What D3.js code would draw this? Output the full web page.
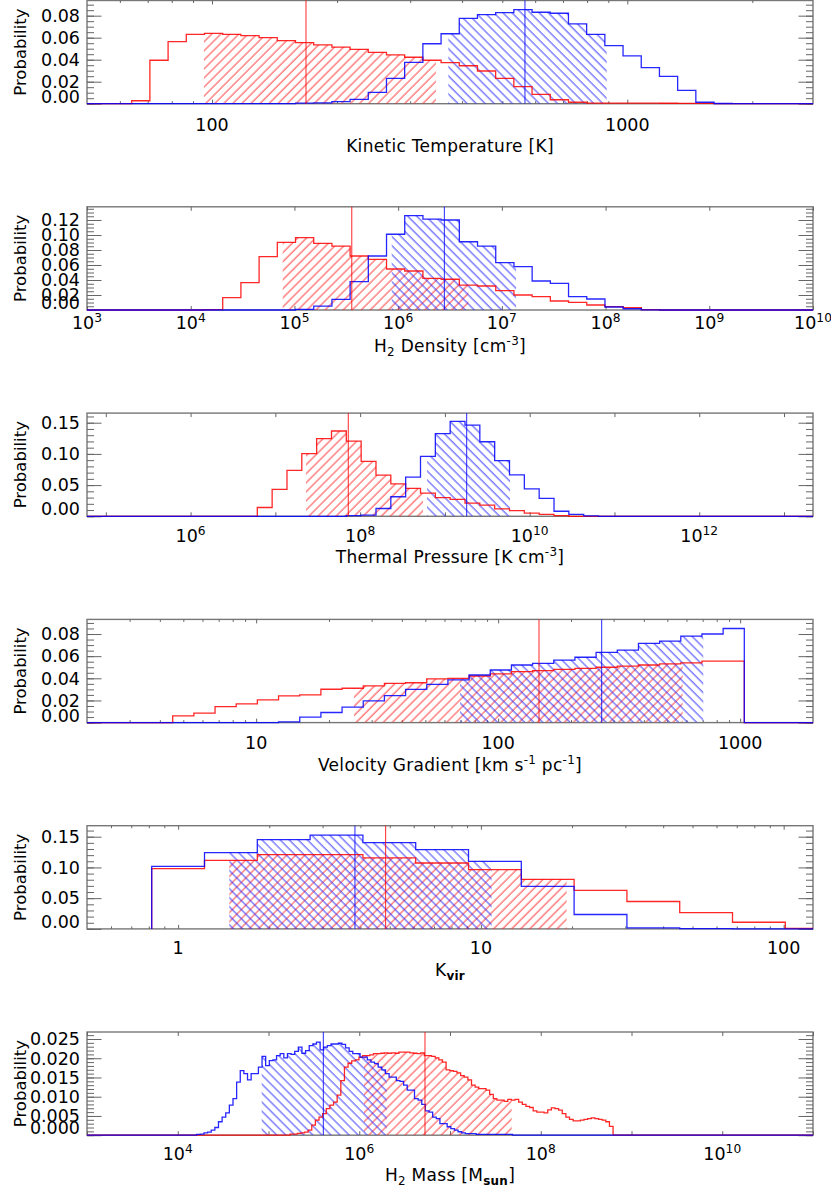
<!DOCTYPE html>
<html>
<head>
<meta charset="utf-8">
<script src="https://cdn.jsdelivr.net/npm/d3@7/dist/d3.min.js"></script>
<style>
  html, body { margin: 0; padding: 0; background: #fff; }
  svg { display: block; }
  text { font-family: "DejaVu Sans", sans-serif; fill: #000; }
</style>
</head>
<body>
<svg id="chart" width="831" height="1189"></svg>
<script>
// ── Data (histograms: log10 of first bin edge, log10 bin width, probabilities) ──

// Kinetic temperature [K]
const tkDomain = [50, 2800];
const tkBinWidth = 0.04382;
const tkStart = [1.8066, 2.2010];           // red, blue
const tkRed = [0.0027, 0.0395, 0.0564, 0.0631, 0.0640, 0.0631, 0.0618, 0.0600, 0.0573, 0.0555,
  0.0534, 0.0515, 0.0494, 0.0467, 0.0443, 0.0422, 0.0395, 0.0373, 0.0345, 0.0297, 0.0231, 0.0155,
  0.0085, 0.0036, 0.0013, 0.0006, 0.0005, 0.0005, 0.0005, 0.0004, 0.0003, 0.0003];
const tkBlue = [0.0005, 0.0008, 0.0018, 0.0040, 0.0103, 0.0230, 0.0376, 0.0545, 0.0636, 0.0776,
  0.0810, 0.0827, 0.0855, 0.0831, 0.0822, 0.0725, 0.0631, 0.0527, 0.0434, 0.0327, 0.0249, 0.0122,
  0.0013, 0.0002];
const tkHatch = [[95.6, 346], [370.7, 892]];
const tkMedian = [168.4, 567];
const tkLabels = [100, 1000];

// H2 density [cm^-3]
const nhDomain = [1e3, 1e10];
const nhBinWidth = 0.1755;
const nhStart = [4.1330, 5.0105];
const nhRed = [0.0005, 0.0164, 0.0364, 0.0711, 0.0902, 0.0964, 0.0889, 0.0853, 0.0720, 0.0676,
  0.0547, 0.0520, 0.0422, 0.0410, 0.0333, 0.0320, 0.0258, 0.0200, 0.0178, 0.0120, 0.0102, 0.0067,
  0.0044, 0.0030, 0.0005];
const nhBlue = [0.0008, 0.0053, 0.0142, 0.0378, 0.0720, 0.1010, 0.1258, 0.1213, 0.1200, 0.0910,
  0.0853, 0.0631, 0.0578, 0.0387, 0.0356, 0.0178, 0.0147, 0.0040, 0.0017, 0.0003];
const nhHatch = [[Math.pow(10, 4.887), Math.pow(10, 6.677)], [Math.pow(10, 5.938), Math.pow(10, 7.137)]];
const nhMedian = [Math.pow(10, 5.553), Math.pow(10, 6.4455)];
const nhExp = [3, 4, 5, 6, 7, 8, 9, 10];

// Thermal pressure [K cm^-3]
const ptDomain = [Math.pow(10, 4.778), Math.pow(10, 13.342)];
const ptBinWidth = 0.175;
const ptStart = [6.787, 7.837];
const ptRed = [0.0141, 0.0433, 0.0735, 0.1005, 0.1244, 0.1367, 0.1205, 0.0880, 0.0660, 0.0519,
  0.0449, 0.0370, 0.0300, 0.0270, 0.0210, 0.0180, 0.0120, 0.0090, 0.0050, 0.0030, 0.0012];
const ptBlue = [0.0010, 0.0020, 0.0125, 0.0313, 0.0627, 0.0962, 0.1325, 0.1520, 0.1460, 0.1195,
  0.0892, 0.0665, 0.0438, 0.0287, 0.0081, 0.0032, 0.0008];
const ptHatch = [[Math.pow(10, 7.361), Math.pow(10, 8.742)], [Math.pow(10, 8.789), Math.pow(10, 9.768)]];
const ptMedian = [Math.pow(10, 7.860), Math.pow(10, 9.257)];
const ptExp = [6, 8, 10, 12];

// Velocity gradient [km s^-1 pc^-1]
const vgDomain = [2, 2000];
const vgBinWidth = 0.08748;
const vgStart = [0.6552, 1.0926];
const vgRed = [0.0061, 0.0085, 0.0145, 0.0169, 0.0205, 0.0241, 0.0250, 0.0301, 0.0310, 0.0331,
  0.0355, 0.0360, 0.0394, 0.0400, 0.0421, 0.0440, 0.0460, 0.0470, 0.0480, 0.0490, 0.0500, 0.0510,
  0.0520, 0.0530, 0.0540, 0.0556, 0.0556];
const vgBlue = [0.0006, 0.0050, 0.0091, 0.0140, 0.0196, 0.0244, 0.0300, 0.0346, 0.0385, 0.0430,
  0.0475, 0.0520, 0.0535, 0.0565, 0.0590, 0.0635, 0.0655, 0.0715, 0.0736, 0.0781, 0.0800, 0.0850];
const vgHatch = [[Math.pow(10, 1.4043), Math.pow(10, 2.7626)], [Math.pow(10, 1.8424), Math.pow(10, 2.8477)]];
const vgMedian = [Math.pow(10, 2.1688), Math.pow(10, 2.4279)];
const vgLabels = [10, 100, 1000];

// K_vir
const kvDomain = [0.5, 125];
const kvBinWidth = 0.1744;
const kvStart = [-0.08733, -0.08733];
const kvRed = [0.0980, 0.1116, 0.1210, 0.1210, 0.1154, 0.1072, 0.0964, 0.0806, 0.0626, 0.0446,
  0.0266, 0.0108, 0.0010];
const kvBlue = [0.1018, 0.1242, 0.1454, 0.1525, 0.1405, 0.1290, 0.1100, 0.0691, 0.0234, 0.0016,
  0.0003, 0.0002, 0.0001];
const kvHatch = [[Math.pow(10, 0.1689), Math.pow(10, 1.2832)], [Math.pow(10, 0.1689), Math.pow(10, 1.0355)]];
const kvMedian = [Math.pow(10, 0.6854), Math.pow(10, 0.5840)];
const kvLabels = [1, 10, 100];

// H2 mass [M_sun]
const hmDomain = [1e3, 1e11];
const hmBinWidth = 0.04;
const hmStart = [5.2369, 4.2088];
const hmRed = [0.0003, 0.0003, 0.0005, 0.0006, 0.0008, 0.0013, 0.0026, 0.0039, 0.0047, 0.0056,
  0.0069, 0.0078, 0.0086, 0.0104, 0.0142, 0.0177, 0.0187, 0.0193, 0.0196, 0.0203,
  0.0207, 0.0207, 0.0209, 0.0212, 0.0212, 0.0213, 0.0214, 0.0213, 0.0214, 0.0213,
  0.0216, 0.0216, 0.0216, 0.0214, 0.0213, 0.0212, 0.0214, 0.0207, 0.0207, 0.0205,
  0.0201, 0.0196, 0.0190, 0.0170, 0.0168, 0.0166, 0.0162, 0.0155, 0.0151, 0.0144,
  0.0130, 0.0125, 0.0121, 0.0121, 0.0117, 0.0106, 0.0095, 0.0091, 0.0091, 0.0088,
  0.0093, 0.0091, 0.0093, 0.0086, 0.0080, 0.0075, 0.0072, 0.0063, 0.0060, 0.0060,
  0.0058, 0.0066, 0.0071, 0.0069, 0.0065, 0.0056, 0.0047, 0.0041, 0.0037, 0.0037,
  0.0039, 0.0041, 0.0043, 0.0045, 0.0043, 0.0041, 0.0039, 0.0035, 0.0023];
const hmBlue = [0.0002, 0.0003, 0.0006, 0.0008, 0.0013, 0.0020, 0.0035, 0.0047, 0.0058, 0.0078,
  0.0095, 0.0138, 0.0168, 0.0160, 0.0144, 0.0160, 0.0160, 0.0177, 0.0205, 0.0181,
  0.0194, 0.0196, 0.0207, 0.0212, 0.0201, 0.0212, 0.0210, 0.0218, 0.0229, 0.0213,
  0.0220, 0.0233, 0.0237, 0.0242, 0.0222, 0.0229, 0.0233, 0.0237, 0.0237, 0.0239,
  0.0236, 0.0227, 0.0218, 0.0212, 0.0212, 0.0203, 0.0203, 0.0196, 0.0190, 0.0186,
  0.0177, 0.0170, 0.0160, 0.0151, 0.0151, 0.0142, 0.0140, 0.0130, 0.0117, 0.0117,
  0.0095, 0.0091, 0.0080, 0.0063, 0.0060, 0.0047, 0.0043, 0.0030, 0.0030, 0.0022,
  0.0017, 0.0013, 0.0009, 0.0006, 0.0004, 0.0004, 0.0004, 0.0002, 0.0002, 0.0002,
  0.0002, 0.0002, 0.0002, 0.0002, 0.0002, 0.0002, 0.0002];
const hmHatch = [[Math.pow(10, 6.052), Math.pow(10, 7.680)], [Math.pow(10, 4.925), Math.pow(10, 6.302)]];
const hmMedian = [Math.pow(10, 6.7245), Math.pow(10, 5.604)];
const hmExp = [4, 6, 8, 10];

// ── Panel setup ─────────────────────────────────────────

const expLabel = e => ({ value: Math.pow(10, e), parts: [['10'], [String(e), 'sup']] });
const plainLabel = v => ({ value: v, parts: [[String(v)]] });

const panels = [
  { domain: tkDomain, yMax: 0.0938, yMajor: 0.02, yMinor: 0.005, yFmt: '.2f', binWidth: tkBinWidth,
    start: tkStart, red: tkRed, blue: tkBlue, hatch: tkHatch, median: tkMedian,
    labels: tkLabels.map(plainLabel), minorX: true, padLeft: true, tickDy: 27, titleDy: 48,
    title: [['Kinetic Temperature [K]']] },
  { domain: nhDomain, yMax: 0.1376, yMajor: 0.02, yMinor: 0.005, yFmt: '.2f', binWidth: nhBinWidth,
    start: nhStart, red: nhRed, blue: nhBlue, hatch: nhHatch, median: nhMedian,
    labels: nhExp.map(expLabel), minorX: false, padLeft: true, tickDy: 18.5, titleDy: 41.5,
    title: [['H'], ['2', 'sub'], [' Density [cm'], ['-3', 'sup'], [']']] },
  { domain: ptDomain, yMax: 0.1654, yMajor: 0.05, yMinor: 0.01, yFmt: '.2f', binWidth: ptBinWidth,
    start: ptStart, red: ptRed, blue: ptBlue, hatch: ptHatch, median: ptMedian,
    labels: ptExp.map(expLabel), minorX: false, padLeft: true, tickDy: 26, titleDy: 47,
    title: [['Thermal Pressure [K cm'], ['-3', 'sup'], [']']] },
  { domain: vgDomain, yMax: 0.0932, yMajor: 0.02, yMinor: 0.005, yFmt: '.2f', binWidth: vgBinWidth,
    start: vgStart, red: vgRed, blue: vgBlue, hatch: vgHatch, median: vgMedian,
    labels: vgLabels.map(plainLabel), minorX: true, padLeft: true, tickDy: 26, titleDy: 48,
    title: [['Velocity Gradient [km s'], ['-1', 'sup'], [' pc'], ['-1', 'sup'], [']']] },
  { domain: kvDomain, yMax: 0.1679, yMajor: 0.05, yMinor: 0.01, yFmt: '.2f', binWidth: kvBinWidth,
    start: kvStart, red: kvRed, blue: kvBlue, hatch: kvHatch, median: kvMedian,
    labels: kvLabels.map(plainLabel), minorX: true, padLeft: false, tickDy: 25, titleDy: 47,
    title: [['K'], ['vir', 'subb']] },
  { domain: hmDomain, yMax: 0.02682, yMajor: 0.005, yMinor: 0.001, yFmt: '.3f', binWidth: hmBinWidth,
    start: hmStart, red: hmRed, blue: hmBlue, hatch: hmHatch, median: hmMedian,
    labels: hmExp.map(expLabel), minorX: false, padLeft: true, tickDy: 25, titleDy: 45.5,
    title: [['H'], ['2', 'sub'], [' Mass [M'], ['sun', 'subb'], [']']] }
];

const LEFT = 87, RIGHT = 813;
const TOP0 = 0.5, PANEL_STEP = 206.3, PLOT_H = 103.2;
const COLORS = ['#ff0000', '#0000ff'];
const AXIS = '#666';

const svg = d3.select('#chart');
const defs = svg.append('defs');

// Line-fill hatching: red "/" and blue "\"
function makeHatch(id, color, angle) {
  const pat = defs.append('pattern')
    .attr('id', id).attr('patternUnits', 'userSpaceOnUse')
    .attr('width', 6.4).attr('height', 10)
    .attr('patternTransform', `rotate(${angle})`);
  pat.append('line')
    .attr('x1', 1).attr('y1', -1).attr('x2', 1).attr('y2', 11)
    .attr('stroke', color).attr('stroke-width', 0.9);
}
makeHatch('hatch-0', '#ff2020', 45);
makeHatch('hatch-1', '#2020ff', -45);

// Text with sub/superscripts
function richText(sel, parts, size) {
  let shift = 0;
  parts.forEach(([t, kind]) => {
    const target = kind === 'sup' ? -7 : (kind === 'sub' || kind === 'subb') ? 4.5 : 0;
    const ts = sel.append('tspan').text(t);
    if (target !== shift) ts.attr('dy', target - shift);
    if (kind) ts.attr('font-size', size * 0.7);
    if (kind === 'subb') ts.attr('font-weight', 'bold');
    shift = target;
  });
}

function stepPoints(start, width, values, d0, d1, padLeft) {
  const edge = k => Math.pow(10, start + k * width);
  const pts = [];
  if (padLeft) pts.push([d0, 0]);
  pts.push([edge(0), 0]);
  values.forEach((v, k) => { pts.push([edge(k), v]); pts.push([edge(k + 1), v]); });
  pts.push([edge(values.length), 0]);
  pts.push([d1, 0]);
  return pts;
}

panels.forEach((p, i) => {
  const top = TOP0 + i * PANEL_STEP;
  const bottom = top + PLOT_H;
  const x = d3.scaleLog().domain(p.domain).range([LEFT, RIGHT]);
  const y = d3.scaleLinear().domain([0, p.yMax]).range([bottom, top]);
  const g = svg.append('g');

  defs.append('clipPath').attr('id', `plot-${i}`)
    .append('rect').attr('x', LEFT).attr('y', top - 2)
    .attr('width', RIGHT - LEFT).attr('height', PLOT_H + 4);

  // Axes box and ticks
  g.append('rect')
    .attr('x', LEFT).attr('y', top).attr('width', RIGHT - LEFT).attr('height', PLOT_H)
    .attr('fill', 'none').attr('stroke', '#777').attr('stroke-width', 1.4);

  const lo = Math.ceil(Math.log10(p.domain[0]) - 1e-9);
  const hi = Math.floor(Math.log10(p.domain[1]) + 1e-9);
  const xMajor = d3.range(lo, hi + 1).map(e => Math.pow(10, e));
  const xMinor = [];
  if (p.minorX) {
    d3.range(lo - 1, hi + 1).forEach(e => {
      for (let m = 2; m <= 9; m++) {
        const v = m * Math.pow(10, e);
        if (v > p.domain[0] && v < p.domain[1]) xMinor.push(v);
      }
    });
  }
  const yMajorVals = d3.range(0, p.yMax + 1e-9, p.yMajor);
  const yMinorVals = d3.range(0, p.yMax + 1e-9, p.yMinor);

  const styleAxis = sel => {
    sel.select('.domain').remove();
    sel.selectAll('text').remove();
    sel.selectAll('line').attr('stroke', AXIS).attr('stroke-width', 1);
  };
  const addAxis = (axis, tx, ty) => g.append('g')
    .attr('transform', `translate(${tx},${ty})`).call(axis).call(styleAxis);

  addAxis(d3.axisBottom(x).tickValues(xMajor).tickSize(-4), 0, bottom);
  addAxis(d3.axisBottom(x).tickValues(xMinor).tickSize(-2.5), 0, bottom);
  addAxis(d3.axisTop(x).tickValues(xMajor).tickSize(-4), 0, top);
  addAxis(d3.axisTop(x).tickValues(xMinor).tickSize(-2.5), 0, top);
  addAxis(d3.axisLeft(y).tickValues(yMinorVals).tickSize(-7), LEFT, 0);
  addAxis(d3.axisLeft(y).tickValues(yMajorVals).tickSize(-14.5), LEFT, 0);
  addAxis(d3.axisRight(y).tickValues(yMinorVals).tickSize(-7), RIGHT, 0);
  addAxis(d3.axisRight(y).tickValues(yMajorVals).tickSize(-14.5), RIGHT, 0);

  // Y tick labels (bottom label sits on the axis)
  const fmt = d3.format(p.yFmt);
  yMajorVals.forEach((v, k) => {
    g.append('text')
      .attr('x', 80)
      .attr('y', k === 0 ? bottom - 1 : y(v) + 6.3)
      .attr('text-anchor', 'end').attr('font-size', 17.5)
      .text(fmt(v));
  });

  // X tick labels
  p.labels.forEach(l => {
    const t = g.append('text')
      .attr('x', x(l.value)).attr('y', bottom + p.tickDy)
      .attr('text-anchor', 'middle').attr('font-size', 17.5);
    richText(t, l.parts, 17.5);
  });

  // Axis titles
  const title = g.append('text')
    .attr('x', (LEFT + RIGHT) / 2).attr('y', bottom + p.titleDy)
    .attr('text-anchor', 'middle').attr('font-size', 17).attr('letter-spacing', 0.3);
  richText(title, p.title, 17);

  g.append('text')
    .attr('transform', `translate(25.5,${(top + bottom) / 2}) rotate(-90)`)
    .attr('text-anchor', 'middle').attr('font-size', 16.5)
    .text('Probability');

  // Data layer
  const data = g.append('g').attr('clip-path', `url(#plot-${i})`);
  const series = [p.red, p.blue];
  const line = d3.line().x(d => x(d[0])).y(d => y(d[1]));

  series.forEach((vals, s) => {
    const [h0, h1] = p.hatch[s];
    const clipId = `hatch-clip-${i}-${s}`;
    defs.append('clipPath').attr('id', clipId)
      .append('rect').attr('x', x(h0)).attr('y', top)
      .attr('width', x(h1) - x(h0)).attr('height', PLOT_H);
    data.append('g').attr('clip-path', `url(#${clipId})`)
      .append('path')
      .attr('d', line(stepPoints(p.start[s], p.binWidth, vals, p.domain[0], p.domain[1], false)) + 'Z')
      .attr('fill', `url(#hatch-${s})`).attr('stroke', 'none');
  });

  series.forEach((vals, s) => {
    data.append('path')
      .attr('d', line(stepPoints(p.start[s], p.binWidth, vals, p.domain[0], p.domain[1], p.padLeft)))
      .attr('fill', 'none').attr('stroke', COLORS[s]).attr('stroke-width', 1.3)
      .attr('stroke-opacity', 0.85);
  });

  p.median.forEach((m, s) => {
    data.append('line')
      .attr('x1', x(m)).attr('x2', x(m)).attr('y1', top).attr('y2', bottom)
      .attr('stroke', COLORS[s]).attr('stroke-width', 1).attr('stroke-opacity', 0.85);
  });
});
</script>
</body>
</html>
